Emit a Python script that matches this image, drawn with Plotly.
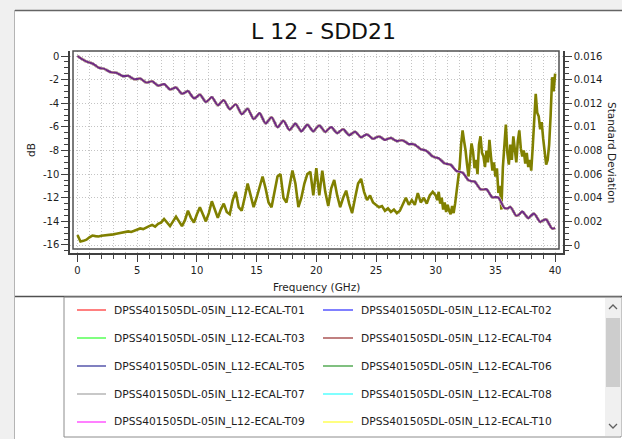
import numpy as np
import plotly.graph_objects as go

# ---------------- data ----------------
freq_sdd = np.arange(161) * 0.25  # GHz, 0..40
sdd21_db = [
    0.00, -0.18, -0.33, -0.47,
    -0.55, -0.64, -0.80, -0.97,
    -1.05, -1.09, -1.23, -1.36,
    -1.40, -1.42, -1.55, -1.69,
    -1.70, -1.68, -1.83, -1.97,
    -1.95, -1.91, -2.08, -2.24,
    -2.20, -2.14, -2.33, -2.51,
    -2.45, -2.38, -2.60, -2.83,
    -2.75, -2.66, -2.93, -3.19,
    -3.10, -2.97, -3.28, -3.58,
    -3.45, -3.26, -3.58, -3.89,
    -3.70, -3.48, -3.83, -4.17,
    -3.95, -3.74, -4.13, -4.51,
    -4.30, -4.08, -4.50, -4.92,
    -4.70, -4.47, -4.90, -5.33,
    -5.10, -4.84, -5.28, -5.71,
    -5.45, -5.18, -5.60, -6.03,
    -5.75, -5.48, -5.88, -6.27,
    -6.00, -5.73, -6.05, -6.38,
    -6.10, -5.82, -6.10, -6.38,
    -6.10, -5.88, -6.15, -6.43,
    -6.20, -6.02, -6.28, -6.53,
    -6.35, -6.20, -6.45, -6.70,
    -6.55, -6.42, -6.65, -6.88,
    -6.75, -6.64, -6.83, -7.01,
    -6.90, -6.81, -6.95, -7.10,
    -7.00, -6.94, -7.08, -7.21,
    -7.15, -7.15, -7.30, -7.46,
    -7.45, -7.52, -7.70, -7.89,
    -7.95, -8.05, -8.28, -8.50,
    -8.60, -8.66, -8.88, -9.09,
    -9.15, -9.21, -9.48, -9.74,
    -9.80, -9.88, -10.20, -10.52,
    -10.60, -10.63, -10.95, -11.28,
    -11.30, -11.28, -11.63, -11.97,
    -11.95, -11.99, -12.43, -12.86,
    -12.90, -12.78, -13.15, -13.53,
    -13.40, -13.18, -13.45, -13.73,
    -13.50, -13.35, -13.70, -14.05,
    -13.90, -13.84, -14.23, -14.61,
    -14.55,
]

freq_std = np.concatenate([np.arange(120) * 0.25, 30 + np.arange(81) * 0.125])
std_dev = [
    0.00085, 0.00030, 0.00035, 0.00045,
    0.00065, 0.00080, 0.00075, 0.00072,
    0.00078, 0.00080, 0.00085, 0.00088,
    0.00090, 0.00095, 0.00100, 0.00102,
    0.00108, 0.00115, 0.00110, 0.00122,
    0.00130, 0.00140, 0.00135, 0.00150,
    0.00160, 0.00170, 0.00155, 0.00180,
    0.0019, 0.0022, 0.0019, 0.0016,
    0.0020, 0.0024, 0.0020, 0.0016,
    0.0021, 0.0029, 0.0023, 0.0019,
    0.0026, 0.0032, 0.0026, 0.0020,
    0.0027, 0.0037, 0.0030, 0.0023,
    0.0030, 0.0035, 0.0028, 0.0026,
    0.0038, 0.0045, 0.0032, 0.0029,
    0.0040, 0.0052, 0.0042, 0.0032,
    0.0040, 0.0050, 0.0058, 0.0048,
    0.0036, 0.0032, 0.0045, 0.0058,
    0.0060, 0.0040, 0.0036, 0.0050,
    0.0063, 0.0052, 0.0032, 0.0040,
    0.0052, 0.0060, 0.0062, 0.0042,
    0.0065, 0.0042, 0.0063, 0.0045,
    0.0033, 0.0048, 0.0055, 0.0042,
    0.0032, 0.0040, 0.0046, 0.0035,
    0.0027, 0.0040, 0.0052, 0.0056,
    0.0045, 0.0038, 0.0042, 0.0036,
    0.0034, 0.0032, 0.0033, 0.0029,
    0.0031, 0.0028, 0.0030, 0.0027,
    0.0029, 0.0035, 0.0040, 0.0034,
    0.0038, 0.0034, 0.0044, 0.0036,
    0.0040, 0.0035, 0.0042, 0.0045,
    # 30 .. 40 GHz, 0.125 GHz steps
    0.0042, 0.0038, 0.0045, 0.0035, 0.0040, 0.0030, 0.0036, 0.0028,
    0.0034, 0.0029, 0.0026, 0.0033, 0.0027, 0.0035, 0.0045, 0.0058,
    0.0066, 0.0085, 0.0097, 0.0088, 0.0080, 0.0068, 0.0058, 0.0072,
    0.0086, 0.0079, 0.0065, 0.0072, 0.0060, 0.0085, 0.0092, 0.0078,
    0.0075, 0.0066, 0.0080, 0.0070, 0.0089, 0.0075, 0.0063, 0.0070,
    0.0058, 0.0065, 0.0044, 0.0050, 0.0030, 0.0066, 0.0083, 0.0102,
    0.0078, 0.0068, 0.0085, 0.0072, 0.0092, 0.0080, 0.0070, 0.0088,
    0.0097, 0.0082, 0.0075, 0.0080, 0.0069, 0.0078, 0.0066, 0.0072,
    0.0063, 0.0083, 0.0108, 0.0128, 0.0112, 0.0109, 0.0098, 0.0104,
    0.0090, 0.0080, 0.0068, 0.0072, 0.0085, 0.0110, 0.0142, 0.0130,
    0.0145,
]

trace_names = ["DPSS401505DL-05IN_L12-ECAL-T%02d" % i for i in range(1, 11)]
trace_colors = ["#ff8080", "#8080ff", "#80ff80", "#c08080", "#8080c0",
                "#80c080", "#c8c8c8", "#80ffff", "#ff80ff", "#ffff80"]
top_name = "DPSS401505DL-05IN_L12-ECAL-T11"
top_color = "#6e2c86"
std_color = "#808000"

x_ticks = [0, 5, 10, 15, 20, 25, 30, 35, 40]
x_tick_labels = ["0", "5", "10", "15", "20", "25", "30", "35", "40"]
db_ticks = [0, -2, -4, -6, -8, -10, -12, -14, -16]
db_tick_labels = ["0", "-2", "-4", "-6", "-8", "-10", "-12", "-14", "-16"]
std_ticks = [0, 0.002, 0.004, 0.006, 0.008, 0.01, 0.012, 0.014, 0.016]
std_tick_labels = ["0", "0.002", "0.004", "0.006", "0.008", "0.01", "0.012", "0.014", "0.016"]

title_text = "L 12 - SDD21"

# ---------------- layout geometry (pixels) ----------------
W, H = 622, 439
PL, PR, PT, PB = 70, 563, 51, 253


def fx(x):
    return (x - PL) / (PR - PL)


def fy(y):
    return (PB - y) / (PB - PT)


FONT = "DejaVu Sans"
AXC = "#404040"
GRIDC = "#c4c4c4"

fig = go.Figure()
fig.add_trace(go.Scatter(x=freq_std, y=std_dev, mode="lines", yaxis="y",
                         line=dict(color=std_color, width=2.6), name="Standard Deviation",
                         showlegend=False, hoverinfo="skip"))
for nm, col in zip(trace_names, trace_colors):
    fig.add_trace(go.Scatter(x=freq_sdd, y=sdd21_db, mode="lines", yaxis="y2",
                             line=dict(color=col, width=2.4, shape="spline", smoothing=1.0),
                             name=nm, showlegend=False, hoverinfo="skip"))
fig.add_trace(go.Scatter(x=freq_sdd, y=sdd21_db, mode="lines", yaxis="y2",
                         line=dict(color=top_color, width=2.1, shape="spline", smoothing=1.0),
                         name=top_name, showlegend=False, hoverinfo="skip"))

common_axis = dict(ticks="outside", ticklen=7, tickwidth=1, tickcolor=AXC,
                   showline=True, linecolor=AXC, linewidth=1.5, zeroline=False,
                   fixedrange=True, tickfont=dict(family=FONT, size=10, color="#1e1e1e"))

fig.update_layout(
    width=W, height=H,
    margin=dict(l=PL, r=W - PR, t=PT, b=H - PB, autoexpand=False),
    paper_bgcolor="white", plot_bgcolor="white", showlegend=False,
    font=dict(family=FONT, size=10, color="#1e1e1e"),
    xaxis=dict(range=[-0.628, 40.66], tickmode="array", tickvals=x_ticks, ticktext=x_tick_labels,
               showgrid=True, gridcolor=GRIDC, griddash="1px,2px", gridwidth=1,
               minor=dict(tickmode="linear", tick0=0, dtick=1, ticks="outside", ticklen=4,
                          tickcolor=AXC, showgrid=True, gridcolor=GRIDC, griddash="1px,2px"),
               **common_axis),
    yaxis=dict(side="right", range=[-0.000677, 0.016423], tickmode="array", tickvals=std_ticks,
               ticktext=std_tick_labels, showgrid=True, gridcolor=GRIDC, griddash="1px,2px",
               minor=dict(tickmode="linear", tick0=0, dtick=0.0005, ticks="outside", ticklen=4,
                          tickcolor=AXC, showgrid=False),
               **common_axis),
    yaxis2=dict(overlaying="y", side="left", anchor="x", range=[-16.68, 0.423], tickmode="array",
                tickvals=db_ticks, ticktext=db_tick_labels, showgrid=False,
                minor=dict(tickmode="linear", tick0=0, dtick=0.5, ticks="outside", ticklen=4,
                           tickcolor=AXC, showgrid=False),
                **common_axis),
)

shapes = []
annotations = []


def rect(x0, y0, x1, y1, fill=None, line=None, width=1, layer=None):
    shapes.append(dict(type="rect", xref="paper", yref="paper", x0=fx(x0), x1=fx(x1),
                       y0=fy(y1), y1=fy(y0), fillcolor=fill if fill else "rgba(0,0,0,0)",
                       line=dict(color=line if line else "rgba(0,0,0,0)", width=width if line else 0),
                       layer=layer if layer else ("below" if fill and not line else "above")))


def seg(x0, y0, x1, y1, color, width=1):
    shapes.append(dict(type="line", xref="paper", yref="paper", x0=fx(x0), x1=fx(x1),
                       y0=fy(y0), y1=fy(y1), line=dict(color=color, width=width)))


def text(x, y, s, size=10, xanchor="left", angle=0, color="#1e1e1e"):
    annotations.append(dict(xref="paper", yref="paper", x=fx(x), y=fy(y), text=s, showarrow=False,
                            xanchor=xanchor, yanchor="middle", textangle=angle,
                            font=dict(family=FONT, size=size, color=color)))


# window chrome
rect(0, 0, W, 10, fill="#f0f0f0")
rect(0, 0, 14, H, fill="#f0f0f0")
seg(15, 10.5, W, 10.5, "#646464", 1.5)
seg(14.5, 10, 14.5, H, "#b4b4b4", 1)

# plot frame
rect(73, 51, 559, 249, line="#505050", width=1.5)

# titles
text(323, 32, title_text, size=22, xanchor="center", color="#101010")
text(316, 287, "Frequency (GHz)", size=10.5, xanchor="center")
text(31, 150, "dB", size=10.5, xanchor="center", angle=-90)
text(612, 152, "Standard Deviation", size=10.5, xanchor="center", angle=90)

# legend box
seg(15, 296.5, W, 296.5, "#505050", 1.5)
rect(64, 297, 621, 437, line="#8c8c8c", width=1)
row_y = [310, 338, 366, 394, 422]
for i, (nm, col) in enumerate(zip(trace_names, trace_colors)):
    r, c = divmod(i, 2)
    lx0, lx1, tx = (77, 106, 112) if c == 0 else (323, 353, 359)
    seg(lx0, row_y[r], lx1, row_y[r], col, 2)
    text(tx, row_y[r], nm, size=10.7)

# scrollbar
rect(605, 298, 621, 436, fill="#f0f0f0", layer="above")
rect(606, 318, 620, 387, fill="#cdcdcd", layer="above")
for (cx, cy, d) in [(613, 307, -1), (613, 426, 1)]:
    path = "M %f,%f L %f,%f L %f,%f" % (fx(cx - 4), fy(cy - 2 * d), fx(cx), fy(cy + 2 * d),
                                        fx(cx + 4), fy(cy - 2 * d))
    shapes.append(dict(type="path", xref="paper", yref="paper", path=path,
                       line=dict(color="#606060", width=1.3)))

fig.update_layout(shapes=shapes, annotations=annotations)
fig.write_html("out.html", config={"displayModeBar": False},
               post_script="document.body.style.margin='0';")
